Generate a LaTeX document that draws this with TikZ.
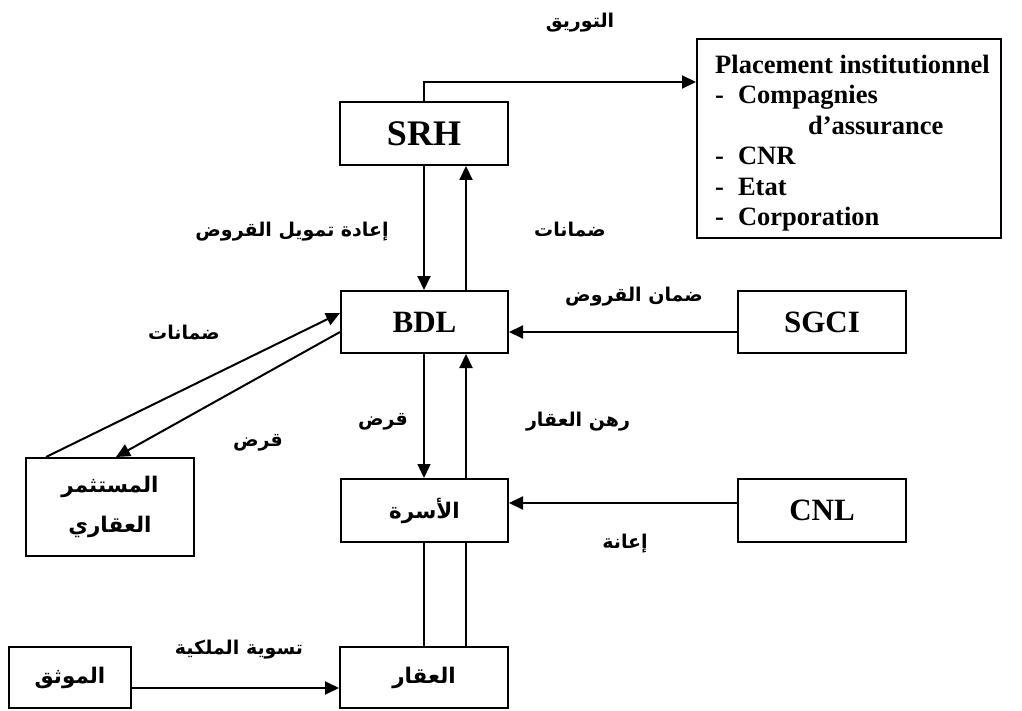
\documentclass[tikz,border=0pt]{standalone}
\usepackage{fontspec}
\setmainfont{Liberation Serif}
\newfontfamily\arabicfont[Script=Arabic]{DejaVu Sans}
\TeXXeTstate=1
\usetikzlibrary{arrows.meta,calc}
\tikzset{
  box/.style={draw, line width=2pt, minimum width=168pt, minimum height=62pt, inner sep=0pt},
  lat/.style={font=\fontsize{31}{36}\selectfont\bfseries},
  arbox/.style={font=\arabicfont\bfseries\fontsize{21.5}{40}\selectfont},
  lbl/.style={font=\arabicfont\bfseries\fontsize{19}{22}\selectfont, inner sep=0pt},
  conn/.style={line width=2pt},
  arr/.style={conn, -{Triangle[length=14pt,width=13pt]}},
}
\begin{document}
\begin{tikzpicture}[x=1pt,y=-1pt]
\fill[white] (0,0) rectangle (1022,711);
\useasboundingbox (0,0) rectangle (1022,711);

% boxes
\node[box, minimum height=63pt, font=\fontsize{36}{40}\selectfont\bfseries] (srh) at (424,133.5) {SRH};
\node[box, lat, minimum width=167pt] (bdl) at (424.5,322) {BDL};
\node[box, lat] (sgci) at (822,322) {SGCI};
\node[box, arbox, minimum width=167pt, minimum height=63pt] (fam) at (424.5,510.5) {\beginR الأسرة\endR};
\node[box, lat, minimum height=63pt] (cnl) at (822,510.5) {CNL};
\node[box, arbox, minimum height=61pt] (aq) at (424,677.5) {\beginR العقار\endR};
\node[box, arbox, minimum width=122pt, minimum height=61pt] (mw) at (70,677.5) {\beginR الموثق\endR};
\node[box, arbox, minimum height=98pt, align=center] (inv) at (110,507) {\beginR المستثمر\endR\\\beginR العقاري\endR};
\node[box, minimum width=304pt, minimum height=199pt] (plc) at (849,138.5) {};
\node[anchor=north west, inner sep=0pt, font=\fontsize{26.5}{30.5}\selectfont\bfseries] (plctext) at (715,51.6)
  {\begin{tabular}{@{}l@{\hspace{14pt}}l@{}}
   \multicolumn{2}{@{}l@{}}{Placement institutionnel}\\
   - & Compagnies\\
     & \hspace{70pt}d’assurance\\
   - & CNR\\
   - & Etat\\
   - & Corporation
   \end{tabular}};

% helper coordinates
\coordinate (xl) at (424,0);
\coordinate (xr) at (466,0);
\coordinate (ytop) at (0,82);

% connectors
\draw[arr] (srh.north -| xl) -- (xl |- ytop) -- (plc.west |- ytop);
\draw[arr] (srh.south -| xl) -- (bdl.north -| xl);
\draw[arr] (bdl.north -| xr) -- (srh.south -| xr);
\draw[arr] ($(sgci.west)+(0,10)$) -- ($(bdl.east)+(0,10)$);
\draw[arr] ($(inv.north west)+(21,0)$) -- ($(bdl.west)+(0,-9)$);
\draw[arr] ($(bdl.west)+(0,10)$) -- ($(inv.north west)+(91,0)$);
\draw[arr, line width=1.4pt] (bdl.south -| xl) -- (fam.north -| xl);
\draw[arr] (fam.north -| xr) -- (bdl.south -| xr);
\draw[arr] ($(cnl.west)+(0,-7.5)$) -- ($(fam.east)+(0,-7.5)$);
\draw[conn] (fam.south -| xl) -- (aq.north -| xl);
\draw[conn] (fam.south -| xr) -- (aq.north -| xr);
\draw[arr] ($(mw.east)+(0,10.5)$) -- ($(aq.west)+(0,10.5)$);

% labels
\node[lbl] (l1) at (580,23) {\beginR التوريق\endR};
\node[lbl] (l2) at (292,232) {\beginR إعادة تمويل القروض\endR};
\node[lbl] (l3) at (570,230) {\beginR ضمانات\endR};
\node[lbl] (l4) at (634,297) {\beginR ضمان القروض\endR};
\node[lbl] (l5) at (184,333) {\beginR ضمانات\endR};
\node[lbl] (l6) at (258,443) {\beginR قرض\endR};
\node[lbl] (l7) at (383,422) {\beginR قرض\endR};
\node[lbl] (l8) at (578,422) {\beginR رهن العقار\endR};
\node[lbl] (l9) at (625,544) {\beginR إعانة\endR};
\node[lbl] (l10) at (239,650) {\beginR تسوية الملكية\endR};
\end{tikzpicture}
\end{document}
